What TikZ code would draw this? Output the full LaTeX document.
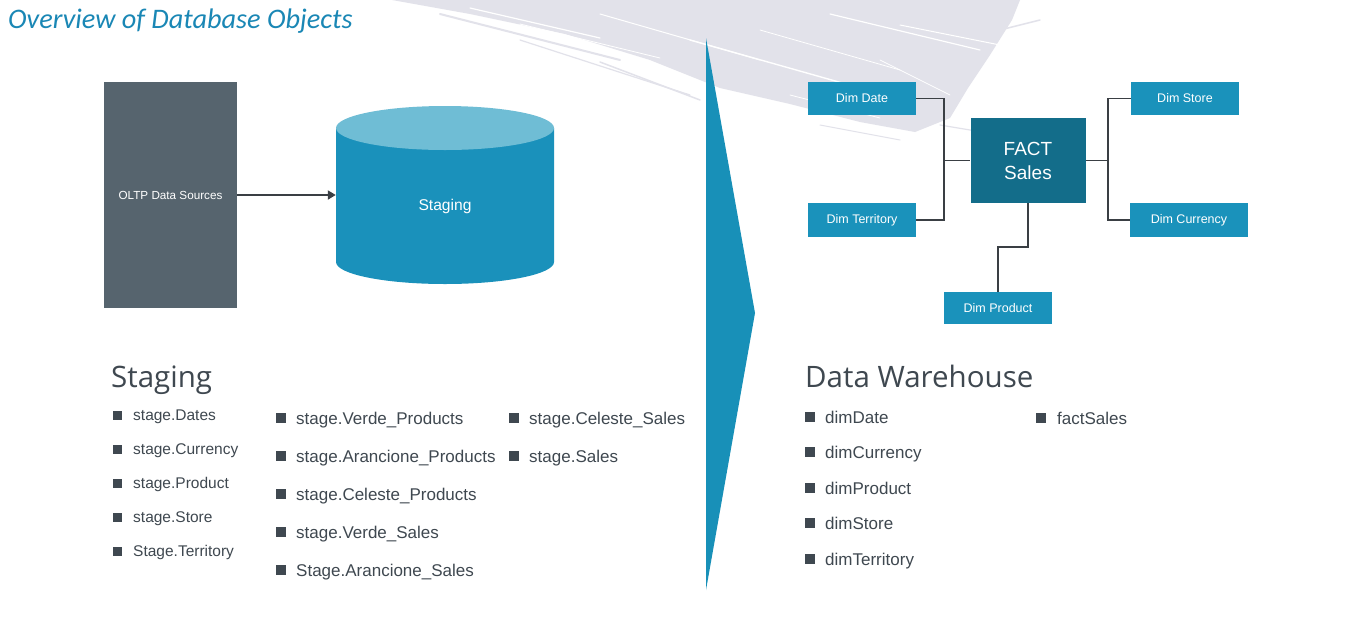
\documentclass[tikz,border=0pt]{standalone}
\usepackage{fontspec}
\usetikzlibrary{arrows.meta}
\setmainfont{Liberation Sans}
\newfontfamily\titlefont{Carlito}
\newfontfamily\headfont{Open Sans}
\definecolor{boxblue}{HTML}{1A92BB}
\definecolor{factblue}{HTML}{136D8A}
\definecolor{cylbody}{HTML}{1A91BB}
\definecolor{cyltop}{HTML}{6FBDD5}
\definecolor{oltpgray}{HTML}{56646E}
\definecolor{textgray}{HTML}{3F4850}
\definecolor{titleblue}{HTML}{1A87B5}
\definecolor{triblue}{HTML}{1890B8}
\definecolor{brush}{HTML}{E2E2EA}
\definecolor{linegray}{HTML}{3A3F44}
\begin{document}
\begin{tikzpicture}[x=1pt,y=-1pt,
  dimbox/.style={fill=boxblue, text=white, font=\fontsize{12.5}{14}\selectfont, inner sep=0, minimum height=33pt},
  conn/.style={draw=linegray, line width=1.8pt},
  item/.style={anchor=base west, inner sep=0, text=textgray, font=\fontsize{17}{17}\selectfont},
  itemsmall/.style={item, font=\fontsize{15.5}{15.5}\selectfont},
  bul/.style={fill=textgray, minimum size=9.5pt, inner sep=0},
  head/.style={anchor=base west, inner sep=0, text=textgray, font=\headfont\fontsize{29.5}{30}\selectfont},
  streak/.style={draw=white, line cap=round},
  bstreak/.style={draw=brush, line cap=round}]
\useasboundingbox (0,0) rectangle (1360,625);
\fill[white] (0,0) rectangle (1360,625);
% brush stroke background
\fill[brush] (392,0) -- (1020,0) -- (1012,20) -- (990,55) -- (968,88) -- (950,118) -- (915,132) -- (860,122) -- (790,104) -- (720,88) -- (650,60) -- (565,34) -- (470,14) -- cycle;
\draw[bstreak, line width=2pt] (440,14) -- (620,60);
\draw[bstreak, line width=1.2pt] (520,40) -- (690,95);
\draw[bstreak, line width=1.5pt] (600,62) -- (700,100);
\draw[bstreak, line width=1.5pt] (1000,30) -- (1040,20);
\draw[bstreak, line width=1.2pt] (940,125) -- (1000,135);
\draw[bstreak, line width=1pt] (820,125) -- (900,140);
\draw[streak, line width=1.2pt] (470,8) -- (600,38);
\draw[streak, line width=0.8pt] (520,24) -- (660,58);
\draw[streak, line width=1pt] (600,14) -- (760,60);
\draw[streak, line width=1.4pt] (690,40) -- (860,88);
\draw[streak, line width=0.8pt] (760,30) -- (900,70);
\draw[streak, line width=1.2pt] (830,14) -- (980,50);
\draw[streak, line width=0.8pt] (880,60) -- (950,95);
\draw[streak, line width=1pt] (900,25) -- (1000,45);
\draw[streak, line width=0.8pt] (790,95) -- (880,118);
% title
\node[anchor=base west, inner sep=0, text=titleblue, font=\titlefont\itshape\fontsize{28.3}{28}\selectfont] (title) at (8,28) {Overview of Database Objects};
% divider triangle
\fill[triblue] (706,38) -- (755,313) -- (706,590) -- cycle;
% left: OLTP and staging
\node[fill=oltpgray, minimum width=133pt, minimum height=226pt, inner sep=0, text=white, font=\fontsize{11.7}{13}\selectfont] (oltp) at (170.5,195) {OLTP Data Sources};
\fill[cylbody] (336,128) -- (336,262) arc[start angle=180, end angle=360, x radius=109, y radius=-22] -- (554,128) -- cycle;
\fill[cyltop] (445,128) ellipse[x radius=109, y radius=22];
\node[minimum width=218pt, minimum height=178pt, inner sep=0] (stg) at (445,195) {};
\node[text=white, font=\fontsize{15.6}{17}\selectfont, inner sep=0] (stglabel) at (445,206) {Staging};
\draw[draw=linegray, line width=1.8pt, -{Triangle[length=8pt,width=9pt]}] (oltp.east) -- (stg.west);
% right: star schema
\node[fill=factblue, text=white, minimum width=115pt, minimum height=85pt, inner sep=0, align=center, font=\fontsize{19}{24}\selectfont] (fact) at (1028,160.5) {FACT\\Sales};
\node[dimbox, minimum width=108pt] (date) at (862,98.5) {Dim Date};
\node[dimbox, minimum width=108pt] (store) at (1185,98.5) {Dim Store};
\node[dimbox, minimum width=108pt, minimum height=34pt] (terr) at (862,220) {Dim Territory};
\node[dimbox, minimum width=118pt, minimum height=34pt] (curr) at (1189,220) {Dim Currency};
\node[dimbox, minimum width=108pt, minimum height=32pt] (prod) at (998,308) {Dim Product};
\coordinate (lb) at (944,160.5);
\coordinate (rb) at (1108,160.5);
\coordinate (pb) at (1028,247);
\draw[conn] (date.east) -| (lb) |- (terr.east);
\draw[conn] (lb) -- (fact.west);
\draw[conn] (store.west) -| (rb) |- (curr.west);
\draw[conn] (rb) -- (fact.east);
\draw[conn] (fact.south) -- (pb) -| (prod.north);
% headings
\node[head] (hstg) at (111,387) {Staging};
\node[head] (hdw) at (805,387) {Data Warehouse};
% staging list column 1
\foreach \t/\y [count=\i] in {stage.Dates/415, stage.Currency/449, stage.Product/483, stage.Store/517, Stage.Territory/551} {
  \node[bul, minimum size=9pt] (sa\i) at (117,\y) {};
  \node[itemsmall] (ta\i) at (133,\y+5) {\t};
}
% column 2
\foreach \t/\y [count=\i] in {stage.Verde\_Products/418, stage.Arancione\_Products/456, stage.Celeste\_Products/494, stage.Verde\_Sales/532, Stage.Arancione\_Sales/570} {
  \node[bul] (sb\i) at (281,\y) {};
  \node[item] (tb\i) at (296,\y+6) {\t};
}
% column 3
\foreach \t/\y [count=\i] in {stage.Celeste\_Sales/418, stage.Sales/456} {
  \node[bul] (sc\i) at (514,\y) {};
  \node[item] (tc\i) at (529,\y+6) {\t};
}
% data warehouse list
\foreach \t/\y [count=\i] in {dimDate/417, dimCurrency/452, dimProduct/488, dimStore/523, dimTerritory/559} {
  \node[bul] (sd\i) at (810,\y) {};
  \node[item] (td\i) at (825,\y+6) {\t};
}
\node[bul] (se1) at (1041,418) {};
\node[item] (te1) at (1057,424) {factSales};
\end{tikzpicture}
\end{document}
